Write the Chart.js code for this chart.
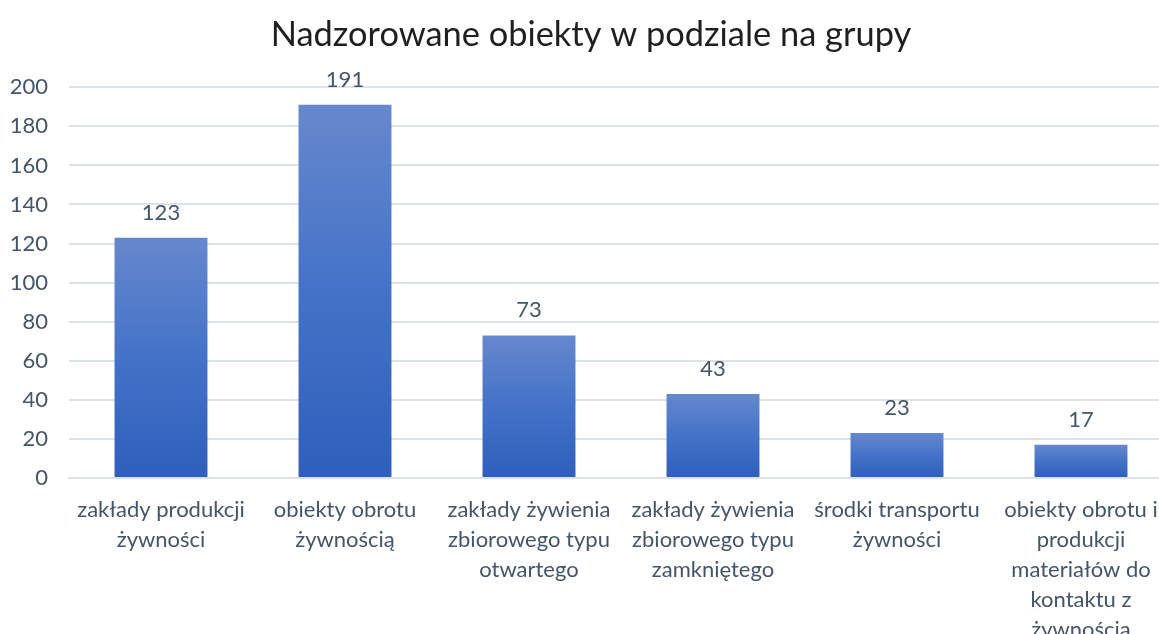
<!DOCTYPE html>
<html>
<head>
<meta charset="utf-8">
<script src="https://cdn.jsdelivr.net/npm/chart.js@4"></script>
<style>
  html, body { margin: 0; padding: 0; background: #fff; overflow: hidden; }
  #wrap { width: 1194px; height: 650px; }
</style>
</head>
<body>
<div id="wrap"><canvas id="groupsChart"></canvas></div>
<script>
const categories = [
    ['zakłady produkcji', 'żywności'],
    ['obiekty obrotu', 'żywnością'],
    ['zakłady żywienia', 'zbiorowego typu', 'otwartego'],
    ['zakłady żywienia', 'zbiorowego typu', 'zamkniętego'],
    ['środki transportu', 'żywności'],
    ['obiekty obrotu i', 'produkcji', 'materiałów do', 'kontaktu z', 'żywnością']
];
const objectCounts = [123, 191, 73, 43, 23, 17];
const yTicks = [0, 20, 40, 60, 80, 100, 120, 140, 160, 180, 200];

const textColor = '#44546A';
const fontFamily = 'Lato, "Open Sans", sans-serif';

// gradient per bar, light at top, darker at base
function barGradient(context) {
    const chart = context.chart;
    const yScale = chart.scales.y;
    if (!chart.chartArea || !yScale || context.raw === undefined) return '#4472c4';
    const top = yScale.getPixelForValue(context.raw);
    const bottom = yScale.getPixelForValue(0);
    if (!isFinite(top) || !isFinite(bottom) || top === bottom) return '#4472c4';
    const g = chart.ctx.createLinearGradient(0, top, 0, bottom);
    g.addColorStop(0, '#6688cd');
    g.addColorStop(0.5, '#4472c8');
    g.addColorStop(1, '#2f5fbb');
    return g;
}

// simple value labels above bars
const valueLabels = {
    id: 'valueLabels',
    afterDatasetsDraw(chart) {
        const ctx = chart.ctx;
        ctx.save();
        ctx.font = '22px ' + fontFamily;
        ctx.fillStyle = textColor;
        ctx.textAlign = 'center';
        ctx.textBaseline = 'middle';
        chart.getDatasetMeta(0).data.forEach((bar, i) => {
            ctx.fillText(objectCounts[i], bar.x, bar.y - 25);
        });
        ctx.restore();
    }
};

const ctx = document.getElementById('groupsChart').getContext('2d');
new Chart(ctx, {
    type: 'bar',
    data: {
        labels: categories,
        datasets: [{
            data: objectCounts,
            backgroundColor: barGradient,
            borderWidth: 0,
            categoryPercentage: 1,
            barPercentage: 0.505
        }]
    },
    options: {
        responsive: true,
        maintainAspectRatio: false,
        animation: false,
        layout: { padding: { right: 21, left: 9, top: 0, bottom: 0 } },
        plugins: {
            legend: { display: false },
            tooltip: { enabled: false },
            title: {
                display: true,
                text: 'Nadzorowane obiekty w podziale na grupy',
                color: '#1f1f1f',
                font: { family: fontFamily, size: 34.4, weight: 'normal' },
                padding: { top: 14, bottom: 32 }
            }
        },
        scales: {
            y: {
                min: 0,
                max: 200,
                afterBuildTicks: (scale) => { scale.ticks = yTicks.map(v => ({ value: v })); },
                afterFit: (scale) => { scale.width = 60; },
                grid: { color: '#dde1e8', lineWidth: 2, drawTicks: false },
                border: { display: false },
                ticks: { color: textColor, padding: 21, font: { family: fontFamily, size: 22 } }
            },
            x: {
                afterFit: (scale) => { scale.height = 172; },
                grid: { display: false },
                border: { color: '#dde1e8', width: 2 },
                ticks: {
                    color: textColor,
                    padding: 9,
                    maxRotation: 0,
                    autoSkip: false,
                    font: { family: fontFamily, size: 22, lineHeight: 1.36 }
                }
            }
        }
    },
    plugins: [valueLabels]
});
</script>
</body>
</html>
